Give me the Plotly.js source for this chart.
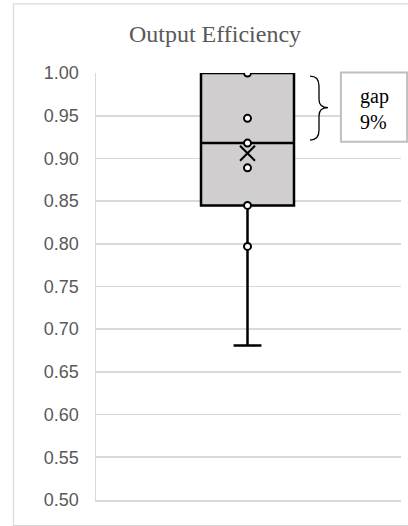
<!DOCTYPE html>
<html>
<head>
<meta charset="utf-8">
<script src="https://cdn.plot.ly/plotly-3.0.1.min.js"></script>
<style>
  html, body { margin: 0; padding: 0; background: #ffffff; }
  #chart { width: 408px; height: 526px; }
</style>
</head>
<body>
<div id="chart"></div>
<script>
// ---- data ----
var seriesName = "Output Efficiency";
var boxQ1 = [0.845];
var boxMedian = [0.918];
var boxQ3 = [1.00];
var boxLowerFence = [0.681];
var boxUpperFence = [1.00];
var boxMean = [0.906];
var innerPoints = [1.00, 0.947, 0.918, 0.889, 0.845, 0.797];
var yTickVals = [0.50, 0.55, 0.60, 0.65, 0.70, 0.75, 0.80, 0.85, 0.90, 0.95, 1.00];
var yTickText = ["0.50", "0.55", "0.60", "0.65", "0.70", "0.75", "0.80", "0.85", "0.90", "0.95", "1.00"];
var gapLabel = "gap<br>9%";

var pos = 0;

var traces = [
  {
    type: "box",
    name: seriesName,
    x: [pos],
    q1: boxQ1,
    median: boxMedian,
    q3: boxQ3,
    lowerfence: boxLowerFence,
    upperfence: boxUpperFence,
    boxpoints: false,
    width: 0.93,
    whiskerwidth: 0.3,
    fillcolor: "#d0cece",
    line: { color: "#000000", width: 2.5 },
    hoverinfo: "skip",
    showlegend: false
  },
  {
    type: "scatter",
    mode: "markers",
    x: innerPoints.map(function () { return pos; }),
    y: innerPoints,
    marker: { symbol: "circle", size: 7, color: "#ffffff", line: { color: "#000000", width: 2 } },
    hoverinfo: "skip",
    showlegend: false
  },
  {
    type: "scatter",
    mode: "markers",
    x: [pos],
    y: boxMean,
    marker: { symbol: "x-thin-open", size: 15, color: "#000000", line: { color: "#000000", width: 2 } },
    hoverinfo: "skip",
    showlegend: false
  }
];

var layout = {
  width: 408,
  height: 526,
  margin: { l: 96, r: 7, t: 73, b: 26 },
  paper_bgcolor: "#ffffff",
  plot_bgcolor: "#ffffff",
  showlegend: false,
  title: {
    text: seriesName,
    font: { family: "Liberation Serif, Times New Roman, serif", size: 24, color: "#595959" },
    x: 215 / 408,
    xref: "container",
    xanchor: "center",
    y: 1 - 34 / 526,
    yref: "container",
    yanchor: "middle"
  },
  xaxis: {
    range: [-1.515, 1.535],
    showgrid: false,
    zeroline: false,
    showticklabels: false,
    ticks: "",
    showline: true,
    linecolor: "#d9d9d9",
    linewidth: 1.5
  },
  yaxis: {
    range: [0.4999, 1.0001],
    tickvals: yTickVals,
    ticktext: yTickText,
    showgrid: true,
    gridcolor: "#d9d9d9",
    gridwidth: 1.5,
    zeroline: false,
    showline: true,
    linecolor: "#d9d9d9",
    linewidth: 1.5,
    ticks: "",
    ticklabelstandoff: 12,
    tickfont: { family: "Liberation Sans, Arial, sans-serif", size: 18, color: "#595959" }
  },
  shapes: [
    // outer chart border
    {
      type: "rect", xref: "paper", yref: "paper",
      x0: -0.2705, x1: 1.2, y0: -0.06, y1: 1.162,
      line: { color: "#d9d9d9", width: 1.2 }, fillcolor: "rgba(0,0,0,0)", layer: "below"
    },
    // curly bracket for the gap
    {
      type: "path", xref: "x", yref: "y",
      path: "M 0.625 0.9965 Q 0.715 0.9965 0.715 0.985 L 0.715 0.969 Q 0.715 0.9595 0.805 0.9595 Q 0.715 0.9595 0.715 0.950 L 0.715 0.933 Q 0.715 0.9215 0.625 0.9215",
      line: { color: "#000000", width: 1.3 }
    },
    // label box
    {
      type: "rect", xref: "paper", yref: "paper",
      x0: 0.803, x1: 1.02, y0: (499.3 - 141) / 427, y1: (499.3 - 71.7) / 427,
      line: { color: "#bfbfbf", width: 2 }, fillcolor: "#ffffff"
    }
  ],
  annotations: [
    {
      xref: "paper", yref: "paper",
      x: (358 - 96) / 305, y: (499.3 - 108) / 427,
      xanchor: "left", yanchor: "middle", align: "left",
      text: gapLabel, showarrow: false,
      font: { family: "Liberation Serif, Times New Roman, serif", size: 20, color: "#000000" }
    }
  ]
};

Plotly.newPlot("chart", traces, layout, { displayModeBar: false, staticPlot: true });
</script>
</body>
</html>
